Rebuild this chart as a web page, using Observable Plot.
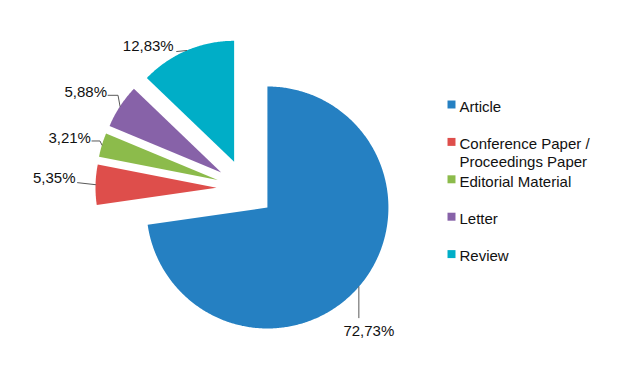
<!DOCTYPE html>
<html>
<head>
<meta charset="utf-8">
<script src="https://cdn.jsdelivr.net/npm/d3@7"></script>
<script src="https://cdn.jsdelivr.net/npm/@observablehq/plot@0.6"></script>
<style>
  html, body { margin: 0; padding: 0; background: #fff; }
  #chart svg { display: block; }
</style>
</head>
<body>
<div id="chart"></div>
<script>
// ---- data ----
const categories = ["Article", "Conference Paper /\nProceedings Paper", "Editorial Material", "Letter", "Review"];
const shares = [72.73, 5.35, 3.21, 5.88, 12.83];
const valueLabels = ["72,73%", "5,35%", "3,21%", "5,88%", "12,83%"];
const colors = ["#2580C2", "#DE4E4B", "#8CBB4B", "#8762A8", "#00AEC7"];

// ---- layout (pixels) ----
const W = 644, H = 388;
const CX = 245, CY = 188, R = 121;      // pie centre & radius in px
const explode = 29 / R;                  // explosion distance (radius units)
const px2x = px => (px - CX) / R;
const py2y = py => (CY - py) / R;
const d2x = d => d / R, d2y = d => -d / R;

// leader polylines and label anchors, as px offsets from the slice's arc midpoint
const leaderOffsets = [
  [[0, 0], [0, 31]],
  [[0, 0], [-18, -2]],
  [[0, 0], [-2, -4], [-10, -4]],
  [[0, 0], [-2, -11], [-12, -11]],
  [[0, 0], [-10, 1]]
];
const labelOffsets = [[10, 44], [-20, -6], [-11, -7], [-13, -14], [-13, -4]];
const labelAnchors = ["middle", "end", "end", "end", "end"];

const arcs = d3.pie().sort(null).value(d => d)(shares);

const slices = arcs.map((a, i) => {
  const m = (a.startAngle + a.endAngle) / 2;
  const ox = explode * Math.sin(m), oy = explode * Math.cos(m);
  const pts = [{x: ox, y: oy}];
  const n = Math.max(8, Math.ceil((a.endAngle - a.startAngle) / 0.01));
  for (let k = 0; k <= n; k++) {
    const t = a.startAngle + (a.endAngle - a.startAngle) * k / n;
    pts.push({x: ox + Math.sin(t), y: oy + Math.cos(t)});
  }
  pts.push({x: ox, y: oy});
  const mid = {x: ox + Math.sin(m), y: oy + Math.cos(m)};
  const leader = leaderOffsets[i].map(([dx, dy]) => ({x: mid.x + d2x(dx), y: mid.y + d2y(dy), i}));
  const label = {x: mid.x + d2x(labelOffsets[i][0]), y: mid.y + d2y(labelOffsets[i][1]), text: valueLabels[i], anchor: labelAnchors[i]};
  return {pts, leader, label, color: colors[i]};
});

// legend rows
const legendRows = categories.map((c, i) => ({
  sx: px2x(451), tx: px2x(459), y: py2y(104 + i * 37.4), name: c, color: colors[i]
}));

const font = "'Liberation Sans', Arial, sans-serif";

const marks = [];
slices.forEach(s => {
  marks.push(Plot.line(s.pts, {x: "x", y: "y", fill: s.color, stroke: "none"}));
});
slices.forEach(s => {
  marks.push(Plot.line(s.leader, {x: "x", y: "y", stroke: "#595959", strokeWidth: 1}));
});
["middle", "end"].forEach(anchor => {
  marks.push(Plot.text(slices.map(s => s.label).filter(l => l.anchor === anchor), {
    x: "x", y: "y", text: "text", textAnchor: anchor, fontSize: 15, fill: "#111", lineAnchor: "middle"
  }));
});
marks.push(Plot.dot(legendRows, {x: "sx", y: "y", symbol: "square", r: 4.5, fill: d => d.color, stroke: "none"}));
marks.push(Plot.text(legendRows, {
  x: "tx", y: "y", text: "name", textAnchor: "start", lineAnchor: "top", dy: -5.5,
  lineHeight: 1.2, fontSize: 15, fill: "#111"
}));

const chart = Plot.plot({
  width: W, height: H,
  margin: 0,
  style: {fontFamily: font, background: "#fff"},
  x: {domain: [px2x(0), px2x(W)], axis: null},
  y: {domain: [py2y(H), py2y(0)], axis: null},
  color: {type: "identity"},
  marks
});
document.getElementById("chart").appendChild(chart);
</script>
</body>
</html>
